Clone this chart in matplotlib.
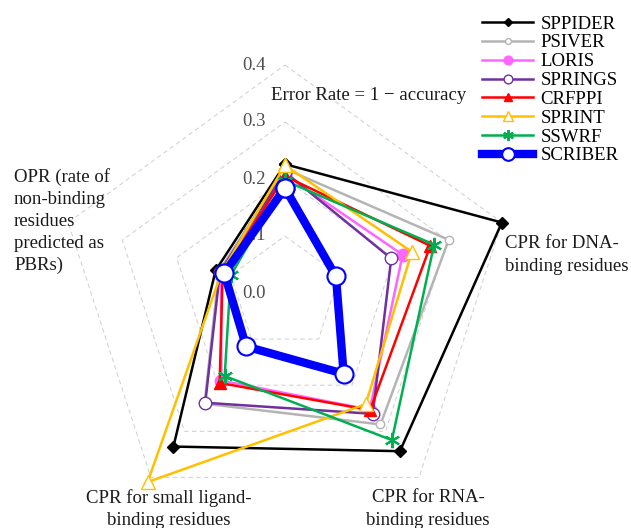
import numpy as np
import matplotlib
matplotlib.use("Agg")
import matplotlib.pyplot as plt

plt.rcParams['font.family'] = ['Liberation Serif', 'DejaVu Serif']

# radar axes: error rate, CPR (DNA, RNA, small ligand), OPR
axis_names = ['Error Rate', 'CPR DNA', 'CPR RNA', 'CPR ligand', 'OPR']
methods = ['SPPIDER', 'PSIVER', 'LORIS', 'SPRINGS', 'CRFPPI', 'SPRINT', 'SSWRF', 'SCRIBER']
sppider = [0.226, 0.400, 0.343, 0.333, 0.128]
psiver = [0.218, 0.302, 0.285, 0.240, 0.122]
loris = [0.208, 0.217, 0.253, 0.190, 0.118]
springs = [0.212, 0.196, 0.262, 0.238, 0.120]
crfppi = [0.205, 0.268, 0.254, 0.195, 0.115]
sprint = [0.224, 0.234, 0.241, 0.410, 0.117]
sswrf = [0.197, 0.275, 0.319, 0.180, 0.100]
scriber = [0.184, 0.094, 0.175, 0.116, 0.112]
rings = [0.1, 0.2, 0.3, 0.4]
tick_vals = [0.0, 0.1, 0.2, 0.3, 0.4]

W, H = 631, 528
fig = plt.figure(figsize=(W / 100, H / 100), dpi=100)

# center of the radar at (285, 293) px, 570 px per unit
cx, cy, rmax = 285, 293, 0.45
rad = 570 * rmax
ax = fig.add_axes([(cx - rad) / W, (H - cy - rad) / H, 2 * rad / W, 2 * rad / H],
                  projection='polar')
ax.set_theta_offset(np.pi / 2)
ax.set_theta_direction(-1)
ax.set_ylim(0, rmax)
ax.grid(False)
ax.spines['polar'].set_visible(False)
ax.set_xticks([])
ax.set_yticks([])
ax.patch.set_alpha(0)

theta = np.linspace(0, 2 * np.pi, len(axis_names), endpoint=False)
closed = np.append(theta, theta[0])

for r in rings:
    ax.plot(closed, [r] * len(closed), ls=(0, (4, 3)), color='#d4d4d4', lw=0.8, zorder=1)

for v in tick_vals:
    ax.annotate(f'{v:.1f}', (0, v), xytext=(-14, 0), textcoords='offset points',
                ha='right', va='center', fontsize=13.5, color='#505050', zorder=2)

styles = [
    (sppider, dict(color='black', marker='D', ms=6, lw=1.8)),
    (psiver, dict(color='#b4b4b4', marker='o', ms=6, mfc='white', lw=1.8)),
    (loris, dict(color='#ff66ff', marker='o', ms=9, lw=1.8)),
    (springs, dict(color='#7030a0', marker='o', ms=9, mfc='white', lw=1.8)),
    (crfppi, dict(color='#ff0000', marker='^', ms=9, lw=1.8)),
    (sprint, dict(color='#ffc000', marker='^', ms=10, mfc='white', lw=1.8)),
    (sswrf, dict(color='#00b050', marker=(6, 2, 0), ms=11, mew=1.5, lw=1.8)),
    (scriber, dict(color='#0000ff', marker='o', ms=13, mfc='white', mew=1.5, lw=6)),
]
for name, (vals, kw) in zip(methods, styles):
    ax.plot(closed, vals + vals[:1], label=name, clip_on=False, zorder=3, **kw)

def put(x, y, s, **kw):
    fig.text(x / W, 1 - y / H, s, fontsize=13.5, color='#1a1a1a', **kw)

put(369, 95, 'Error Rate = 1 \u2212 accuracy', ha='center', va='center')
put(505, 255, 'CPR for DNA-\nbinding residues', ha='left', va='center', linespacing=1.45)
put(428, 509, 'CPR for RNA-\nbinding residues', ha='center', va='center', linespacing=1.4)
put(169, 509, 'CPR for small ligand-\nbinding residues', ha='center', va='center', linespacing=1.4)
put(14, 221, 'OPR (rate of\nnon-binding\nresidues\npredicted as\nPBRs)', ha='left', va='center',
    linespacing=1.38)

fig.legend(loc='upper right', bbox_to_anchor=(626 / W, 1 - 8 / H), frameon=False,
           fontsize=13.5, handlelength=2.7, labelspacing=0.09, handletextpad=0.4,
           borderaxespad=0, markerscale=0.7)

fig.savefig('out.png', dpi=100)
